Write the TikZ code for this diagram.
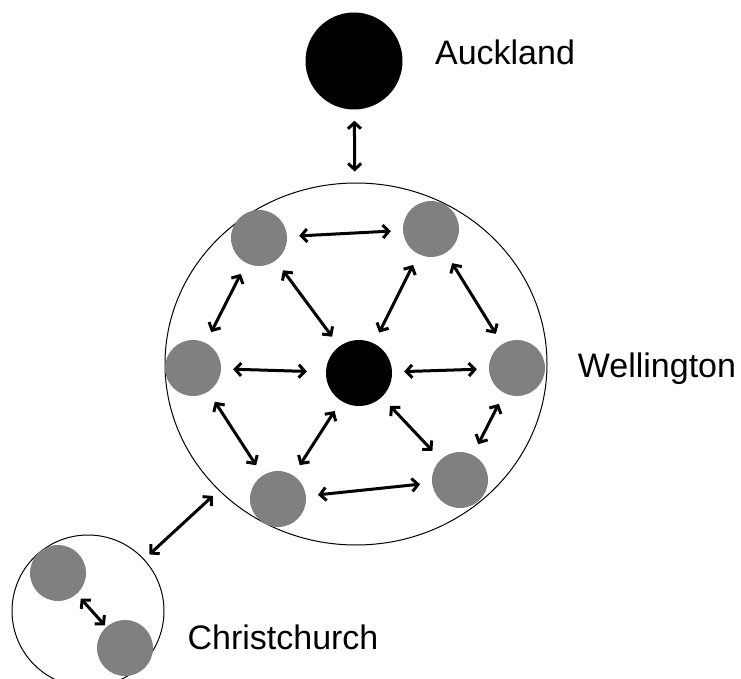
\documentclass[tikz,border=0pt]{standalone}
\usepackage{fontspec}
\setmainfont{Liberation Sans}
\usetikzlibrary{arrows.meta,shapes.geometric}
\definecolor{cgray}{RGB}{128,128,128}
\tikzset{
  gnode/.style={circle,fill=cgray,draw=none,minimum size=56pt,inner sep=0pt},
  bnode/.style={circle,fill=black,draw=none,inner sep=0pt},
  twoway/.style={draw=black,line width=3pt,{Straight Barb[length=6pt,width=13pt,line width=3pt]}-{Straight Barb[length=6pt,width=13pt,line width=3pt]},shorten <=12pt,shorten >=12pt},
  lbl/.style={font=\fontsize{34}{40}\selectfont,inner sep=0pt}}
\begin{document}
\begin{tikzpicture}[x=1pt,y=-1pt]
\useasboundingbox (0,0) rectangle (741,679);
% Regions
\node[ellipse,draw,line width=1pt,minimum width=382pt,minimum height=362pt,inner sep=0pt] (well) at (356,364) {};
\node[circle,draw,line width=1pt,minimum size=152pt,inner sep=0pt] (chch) at (88,611) {};
% Auckland
\node[bnode,minimum size=97pt] (auck) at (354,61) {};
% Wellington nodes
\node[bnode,minimum size=66pt] (c) at (359,373) {};
\node[gnode] (tl) at (259,238) {};
\node[gnode] (tr) at (431,229) {};
\node[gnode] (l) at (193,368) {};
\node[gnode] (r) at (517,368) {};
\node[gnode] (bl) at (278,499) {};
\node[gnode] (br) at (460,480) {};
% Christchurch nodes
\node[gnode] (ca) at (58,573) {};
\node[gnode] (cb) at (125,648) {};
% Labels
\node[lbl] (lauck) at (505,52) {Auckland};
\node[lbl] (lwell) at (657,369) {Wellington};
\node[lbl] (lchch) at (283,637) {Christchurch};
% Connectors
\begin{scope}[line width=3pt]
\draw[twoway,line width=3pt,shorten <=11pt,shorten >=11pt] (auck) -- (well);
\draw[twoway,line width=3pt] (tl) -- (tr);
\draw[twoway,line width=3pt] (tl) -- (l);
\draw[twoway,line width=3pt] (tl) -- (c);
\draw[twoway,line width=3pt] (tr) -- (c);
\draw[twoway,line width=3pt] (tr) -- (r);
\draw[twoway,line width=3pt,shorten >=19pt] (l) -- (c);
\draw[twoway,line width=3pt] (c) -- (r);
\draw[twoway,line width=3pt] (l) -- (bl);
\draw[twoway,line width=3pt] (c) -- (bl);
\draw[twoway,line width=3pt] (c) -- (br);
\draw[twoway,line width=3pt] (r) -- (br);
\draw[twoway,line width=3pt] (bl) -- (br);
\draw[twoway,line width=3pt,shorten <=7pt,shorten >=8pt] (chch) -- (well);
\draw[twoway,line width=3pt,shorten <=6pt,shorten >=2pt] (ca) -- (cb);
\end{scope}
\end{tikzpicture}
\end{document}
